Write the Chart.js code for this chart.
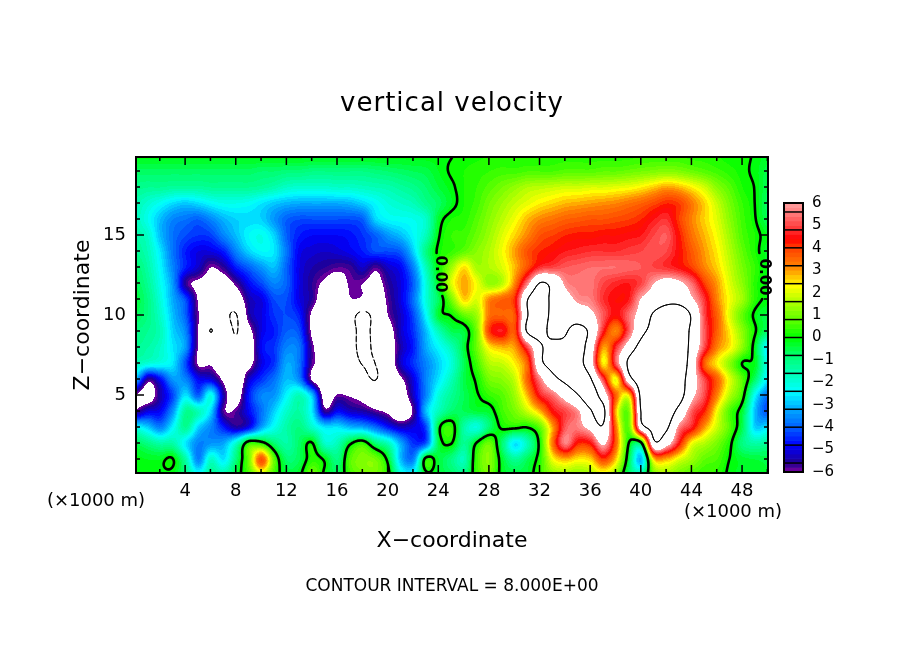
<!DOCTYPE html>
<html><head><meta charset="utf-8">
<style>html,body{margin:0;padding:0;background:#fff}#wrap{position:relative;width:904px;height:654px;overflow:hidden}canvas{position:absolute}</style>
<script src="https://cdn.jsdelivr.net/npm/chart.js@4"></script>
</head><body><div id="wrap"><canvas id="main" width="904" height="654" style="left:0;top:0"></canvas><canvas id="bar" width="134" height="305" style="left:770px;top:185px"></canvas></div>
<script>
const titleText='vertical velocity', xTitle='X\u2212coordinate', zTitle='Z\u2212coordinate';
const noteText='CONTOUR INTERVAL = 8.000E+00', unitText='(\u00d71000 m)', contourLabel='0.00';
const xNodes=[0,1,2,3,4,5,6,7,8,9,10,11,12,13,14,15,16,17,18,19,20,21,22,23,24,25,26,27,28,29,30,31,32,33,34,35,36,37,38,39,40,41,42,43,44,45,46,47,48,49,50];
const zNodes=[0,1,2,3,4,5,6,7,8,9,10,11,12,13,14,15,16,17,18,19,20];
const wZ20=[-.1,-.1,-.1,-.1,-.1,-.1,-.1,-.1,-.1,-.1,
-.1,-.1,-.1,-.1,-.1,-.1,-.1,-.1,-.1,-.1,
-.1,-.1,-.1,-.1,-.1,-.02,.1,.15,.2,.2,
.2,.2,.2,.3,.3,.3,.3,.3,.3,.3,
.4,.4,.4,.4,.3,.3,.2,.1,.1,-.05,
-.3];
const wZ19=[-.7,-.7,-.7,-.7,-.7,-.7,-.7,-.7,-.7,-.7,
-.8,-.8,-.9,-.9,-1,-1,-1,-1,-1,-.9,
-.8,-.7,-.6,-.5,-.2,.05,.2,.3,.4,.5,
.5,.6,.6,.6,.7,.7,.7,.8,.8,.9,
1,1.1,1.2,1.1,.9,.7,.5,.3,.1,-.1,
-.5];
const wZ18=[-1.1,-1.2,-1.2,-1.3,-1.3,-1.3,-1.2,-1.2,-1.2,-1.2,
-1.3,-1.5,-1.8,-1.9,-1.9,-1.9,-1.8,-1.8,-1.7,-1.6,
-1.5,-1.3,-1.1,-.8,-.4,-.1,.2,.4,.7,1,
1.3,1.6,1.7,1.8,1.9,1.9,2,2,2.1,2.2,
2.4,2.7,3,2.8,2.4,1.9,1.2,.7,.2,-.02,
-.6];
const wZ17=[-1.5,-1.9,-2.3,-2.7,-2.9,-2.7,-2.4,-2.2,-2.2,-2.3,
-2.6,-2.9,-3.1,-3.2,-3.2,-3.2,-3.2,-3.1,-2.8,-2.4,
-2,-1.8,-1.6,-1.1,-.7,-.2,.2,.5,1,1.4,
1.8,2.1,2.4,2.6,2.8,2.9,3,3.1,3.2,3.4,
3.6,3.9,4.2,4,3.3,2.6,1.8,1,.4,0,
-.7];
const wZ16=[-1.6,-2.2,-3,-3.6,-3.8,-4,-3.6,-3.1,-2.8,-2.7,
-2.8,-3.4,-4,-4.2,-4.2,-4.2,-4.2,-4.2,-4,-2.8,
-2.4,-2.3,-2.2,-1.8,-.3,.2,.3,.7,1.2,1.7,
2.2,2.8,3.2,3.4,3.6,3.7,3.8,3.8,3.9,4,
4.2,4.6,4.8,4,3.2,2.6,2,1.2,.5,.05,
-.6];
const wZ15=[-1.4,-1.8,-3,-3.8,-4.2,-4.4,-4.3,-3.6,-3,-2.4,
-2.2,-2.8,-4,-4.6,-4.8,-4.8,-4.8,-4.7,-4.4,-4,
-3.4,-3,-2.4,-1.6,-.1,.4,.5,.9,1.4,2,
2.6,3.2,3.8,4,4.2,4.3,4.3,4.4,4.4,4.5,
4.6,5,5.2,4.3,3.4,2.8,2.2,1.4,.6,.2,
-.2];
const wZ14=[-1.2,-1.6,-2.6,-3.8,-4.6,-5,-5,-4.6,-3.6,-2.8,
-2.4,-2.6,-3.8,-4.9,-5.1,-5.2,-5.1,-4.9,-4.6,-4.2,
-4.2,-4,-2.8,-1,.1,.4,.8,1.2,1.6,2.2,
3,3.8,4.2,4.4,4.6,4.7,4.8,4.8,4.8,4.9,
5,5.2,5,4.4,3.7,3,2.4,1.6,.8,.2,
-.3];
const wZ13=[-.8,-1.4,-2.4,-3.6,-4.6,-5.2,-6,-5.6,-4.6,-4,
-3.4,-3,-4,-5,-5.4,-5.6,-5.8,-5.7,-5.2,-5.8,
-5.2,-4.8,-3.6,-1.6,.05,1.4,2.5,1.5,1.6,2,
2.8,3.8,4.8,5,5.2,5.3,5.4,5.4,5.4,5.3,
5.2,5,4.8,4.5,4,3.2,2.6,1.8,1,.4,
-.2];
const wZ12=[-.6,-1.2,-2.2,-3.4,-5.6,-6.2,-6.4,-6.6,-5.8,-4.8,
-4.2,-3.6,-4,-5,-5.6,-6.2,-6.6,-5.9,-6,-6.4,
-5.6,-5,-4,-2,-.1,2,2.9,2.2,1.3,1.7,
3.2,5.6,8,7.5,5.8,5.5,5.5,5,4.7,4.6,
5,6,6.6,6.3,5.4,4,3,2,1.2,.3,
-.1];
const wZ11=[-.4,-1,-2,-3.2,-4.2,-6.1,-7,-7.2,-6.8,-5.4,
-5,-4.2,-4.2,-5,-5.6,-6.8,-7.2,-6.1,-6.2,-6.8,
-5.8,-5,-3.8,-2,-.6,1,2.6,2,3.2,3.6,
4.2,7.8,9,7.6,6.6,5.8,5.6,4.8,4.4,4.6,
6.1,6.8,7.4,7.2,6.2,4.8,3.2,2.2,1.4,.3,
-.1];
const wZ10=[-.6,-1,-1.8,-3,-4,-5.95,-6.6,-7.4,-8.1,-5.6,
-5,-4.4,-4.2,-4.6,-6.2,-7,-7.2,-7.4,-8.4,-7.5,
-6,-5.2,-4.2,-2.4,-.3,.05,.8,1.4,3.4,3.6,
3.8,7.8,9,7.6,7.2,7,6.4,5.2,4.4,5.4,
6.6,8.2,9,9.4,7.8,5,3.6,2,.8,-.1,
-.5];
const wZ9=[-1,-1.2,-1.6,-2.8,-3.6,-6,-8.03,-6.8,-8.1,-6.4,
-5,-4.6,-4,-4.2,-6.2,-7,-7.2,-7.4,-8.4,-7.6,
-6.6,-5.2,-4.4,-3,-1.6,-.6,-.4,1,4,4.6,
3.8,8.1,8.9,7.4,7.8,8.6,7.6,4.6,3.2,5.2,
7.4,8.6,9.4,9.4,7.6,5.2,3.6,2.4,1.2,.1,
-.8];
const wZ8=[-1.2,-1.4,-1.8,-2.6,-3.4,-6.05,-6.3,-6.5,-7.6,-6.8,
-4.8,-4.4,-3.6,-3.8,-5.8,-6.8,-7.2,-7.4,-8.4,-7.7,
-6.8,-5.4,-4.6,-3.2,-2.4,-1.6,-.4,.9,2.4,2.8,
3,5,7.6,8.6,8.4,8.8,7,3,4.8,6.8,
8.6,9.6,9.8,9.6,7.4,5,3.2,2.4,1.2,-.3,
-2.6];
const wZ7=[-1.6,-2,-2.2,-2.6,-4.2,-6.1,-6.1,-6.8,-6.9,-6.4,
-5,-4.4,-3.2,-3.8,-5.8,-6.4,-7,-7.4,-8.05,-8,
-7,-5.2,-4.4,-3.6,-2.8,-2,-.6,.5,1.6,1.8,
2.4,3.6,7.4,8.6,9,8.6,6.8,2.4,5.2,8.2,
9.6,10,10,9.6,7,3.6,2.4,1.2,0,-.2,
-2.2];
const wZ6=[-3,-5.6,-4.8,-3.4,-3.6,-4.8,-5,-6.2,-7.2,-5.2,
-4.4,-3.8,-3,-3.6,-6.1,-7,-7.4,-7.5,-7.6,-8.05,
-7.2,-6.2,-5,-3.6,-2.6,-1.6,-.5,.1,1,1.2,
1.8,3.6,5.6,7.4,8.4,9,8.2,5,2.2,7,
9.2,10,10,9.2,6.8,5,3.6,2,.7,-.8,
-2.6];
const wZ5=[-6.1,-6.6,-5.4,-4.2,-2.6,-4,-2.2,-5.4,-6.6,-4.6,
-3.6,-3.4,-2.4,-1.6,-3,-6.6,-5.9,-6.1,-6.4,-7,
-7.2,-6.8,-5.2,-3.6,-2,-1.2,-.6,-.1,.4,.7,
1.4,2.8,4.6,5.4,6.6,7.9,9,7,3.6,2.4,
8.4,9.8,10,9,6.4,5,3.2,1.6,.4,-2.4,
-3.8];
const wZ4=[-5.8,-5,-4.8,-3.4,-1.2,-1.6,-2.8,-5.8,-5.8,-4.8,
-3.8,-2.8,-1.8,-1.4,-2.6,-5.6,-4.8,-5.2,-5.4,-5.8,
-6.2,-7,-5.8,-3,-1.6,-.8,-.6,-.4,-.3,.5,
1,1.8,2.8,4.4,5,5.8,7.8,8.6,2.8,1,
8,9.4,9.4,7.4,5.2,4.2,2.2,.6,-.4,-3,
-4.2];
const wZ3=[-2.2,-2.8,-3.6,-2.4,-1.2,-2.8,-3.6,-4.6,-5.4,-4.8,
-3.2,-2.2,-1.4,-1,-1.8,-2.6,-2.6,-3,-3.2,-3.8,
-4.6,-5.2,-5,-4.2,-.3,.4,-1.4,-2,-.8,.1,
.2,.05,.8,3,5.2,5.6,6.4,7.8,3.4,.8,
7,8.6,8.4,5.6,4.6,3,1.8,.7,-.6,-2.8,
-2.6];
const wZ2=[-.6,-1,-1.4,-1.4,-2.6,-3.6,-3.4,-3.2,-1.8,.4,
.3,-.8,-1.4,-.7,.05,-1.8,-1.6,-.2,.4,-.8,
-1.6,-3.2,-4.4,-4,-.5,.05,-1.2,0,.9,-.8,
-2.6,-1.6,.2,3.4,5.6,4.2,4.4,6.2,3.6,.1,
-.3,7.4,6.6,4.4,2.2,1.6,1,.2,-1,-1.4,
-1.2];
const wZ1=[-.1,-.2,-.2,.03,-1.4,-3.6,-1.8,-2.6,-.9,1,
3.8,.8,-.8,-.6,.3,-.1,-1,.7,1.1,1,
-.2,-3,-3.6,.2,-.4,-1,-1.6,.5,1.2,-.3,
-1.2,-.6,.3,2.2,2.8,2.4,2.6,4,2.6,-.4,
-3,2.6,2.8,2,1.4,.8,.6,0,-.3,-.4,
-.5];
const wZ0=[-.1,-.1,-.1,-.2,-1,-2.2,-1.2,-1.4,-.4,.6,
1.6,.5,-.4,-.2,1,-.1,-.6,.5,1,1,
.3,-2,-2.2,-.2,-.4,-.7,-1,.4,1,-.2,
-.4,-.4,.5,1.2,1.4,1.2,1.5,2,1.2,-.8,
-1.2,1,1.4,1,.6,.4,.3,-.1,-.3,-.3,
-.4];
const rows=[wZ0,wZ1,wZ2,wZ3,wZ4,wZ5,wZ6,wZ7,wZ8,wZ9,wZ10,wZ11,wZ12,wZ13,wZ14,wZ15,wZ16,wZ17,wZ18,wZ19,wZ20];
const stopValues=[6,5.6,4.8,4.4,4,3.2,2.3,1.6,.8,0,-.8,-1.6,-2.4,-3.2,-4,-4.8,-5.6,-6];
const stopColors=['#ffa0a0','#ff8080','#ff3030','#ff0000','#ff4000','#ff8000','#ffff00','#b0ff00','#60ff00','#00ff00','#00ff70','#00ffb8','#00ffff','#00a8ff','#0060ff','#0000ff','#200090','#8000a0'];
const barEdges=[6,5.6,4.8,4,3.2,2.4,1.6,.8,0,-.8,-1.6,-2.4,-3.2,-4,-4.8,-5.6,-6];
const barLabels={'6':'6','5':'5','4':'4','3':'3','2':'2','1':'1','0':'0','-1':'\u22121','-2':'\u22122','-3':'\u22123','-4':'\u22124','-5':'\u22125','-6':'\u22126'};
const contourLevels=[0,8,-8];

const hex=h=>[1,3,5].map(i=>parseInt(h.slice(i,i+2),16));
const rgbStops=stopColors.map(hex);
const BAND=.2;
function rgbFor(v){
  if(v>6||v<-6) return [255,255,255];
  const q=(Math.floor(v/BAND)+.5)*BAND;
  for(let i=0;i<stopValues.length-1;i++){
    if(q<=stopValues[i]&&q>=stopValues[i+1]){
      const t=(stopValues[i]-q)/(stopValues[i]-stopValues[i+1]);
      return rgbStops[i].map((c,k)=>Math.round(c+(rgbStops[i+1][k]-c)*t));
    }
  }
  return [255,255,255];
}
const css=v=>{const c=rgbFor(v);return `rgb(${c[0]},${c[1]},${c[2]})`;};
function cr(a,b,c,d,t){return b+.5*t*(c-a+t*(2*a-5*b+4*c-d+t*(3*(b-c)+d-a)));}
function sample(x,z){
  const nx=xNodes.length,nz=zNodes.length;
  const i=Math.min(nx-2,Math.max(0,Math.floor(x))),j=Math.min(nz-2,Math.max(0,Math.floor(z)));
  const tx=x-i,tz=z-j,col=[];
  for(let m=-1;m<=2;m++){
    const r=rows[Math.min(nz-1,Math.max(0,j+m))];
    const g=k=>r[Math.min(nx-1,Math.max(0,k))];
    col.push(cr(g(i-1),g(i),g(i+1),g(i+2),tx));
  }
  return cr(col[0],col[1],col[2],col[3],tz);
}
const cells=[];
zNodes.forEach((z,j)=>xNodes.forEach((x,i)=>cells.push({x,y:z,w:rows[j][i]})));

const gaps=[[424,252,458,296],[750,252,775,299]];
const fieldPlugin={id:'field',afterDatasetsDraw(chart){
  const c=chart.ctx,a=chart.chartArea,xs=chart.scales.x,ys=chart.scales.y;
  const L=Math.round(a.left),T=Math.round(a.top),W=Math.round(a.right)-L,H=Math.round(a.bottom)-T;
  const F=new Float32Array((W+1)*(H+1));
  const img=c.createImageData(W,H);
  for(let py=0;py<=H;py++){const z=ys.getValueForPixel(T+py);
    for(let px=0;px<=W;px++){
      const v=sample(xs.getValueForPixel(L+px),z);F[py*(W+1)+px]=v;
      if(px<W&&py<H){const col=rgbFor(v),o=(py*W+px)*4;img.data[o]=col[0];img.data[o+1]=col[1];img.data[o+2]=col[2];img.data[o+3]=255;}
    }}
  c.putImageData(img,L,T);
  c.save();c.beginPath();c.rect(L,T,W,H);c.clip();c.strokeStyle='#000';
  contourLevels.forEach(level=>{
    c.beginPath();c.lineWidth=level===0?2.6:1;c.lineCap='round';
    for(let py=0;py<H;py++)for(let px=0;px<W;px++){
      const v=[F[py*(W+1)+px],F[py*(W+1)+px+1],F[(py+1)*(W+1)+px+1],F[(py+1)*(W+1)+px]];
      const pts=[];
      const edge=(a1,b1,ax,ay,bx,by)=>{if((a1>level)!==(b1>level)){const t=(level-a1)/(b1-a1);pts.push([L+px+ax+(bx-ax)*t,T+py+ay+(by-ay)*t]);}};
      edge(v[0],v[1],0,0,1,0);edge(v[1],v[2],1,0,1,1);edge(v[2],v[3],1,1,0,1);edge(v[3],v[0],0,1,0,0);
      if(pts.length<2)continue;
      const X=pts[0][0],Y=pts[0][1];
      if(level===0&&gaps.some(g=>X>g[0]&&X<g[2]&&Y>g[1]&&Y<g[3]))continue;
      if(level<0&&(Y%8)>5)continue;
      c.moveTo(pts[0][0],pts[0][1]);c.lineTo(pts[1][0],pts[1][1]);
      if(pts.length===4){c.moveTo(pts[2][0],pts[2][1]);c.lineTo(pts[3][0],pts[3][1]);}
    }
    c.stroke();
  });
  c.restore();
  c.save();c.strokeStyle='#000';
  c.lineWidth=1.5;
  xs.ticks.forEach(t=>{const p=xs.getPixelForValue(t.value),n=t.value%4===0?8:4;
    c.beginPath();c.moveTo(p,a.bottom);c.lineTo(p,a.bottom-n);c.moveTo(p,a.top);c.lineTo(p,a.top+n);c.stroke();});
  ys.ticks.forEach(t=>{const p=ys.getPixelForValue(t.value),n=t.value%5===0?8:4;
    c.beginPath();c.moveTo(a.left,p);c.lineTo(a.left+n,p);c.moveTo(a.right,p);c.lineTo(a.right-n,p);c.stroke();});
  c.lineWidth=2;c.strokeRect(a.left,a.top,a.right-a.left,a.bottom-a.top);
  c.fillStyle='#000';c.textAlign='center';c.textBaseline='middle';
  c.font='26px "DejaVu Sans"';c.letterSpacing='1px';
  c.fillText(titleText,452,104);c.letterSpacing='0px';
  c.font='17px "DejaVu Sans"';
  c.fillText(noteText,452,587);
  c.font='18px "DejaVu Sans"';
  c.fillText(unitText,96,501);c.fillText(unitText,733,512);
  c.font='bold 15px "DejaVu Sans"';
  [[440,274],[764,277]].forEach(p=>{c.save();c.translate(p[0],p[1]);c.rotate(Math.PI/2);c.fillText(contourLabel,0,0);c.restore();});
  c.restore();
}};
Chart.defaults.font.family='"DejaVu Sans"';
Chart.defaults.color='#000';
new Chart(document.getElementById('main'),{type:'scatter',
 data:{datasets:[{data:cells,pointStyle:'rect',pointRadius:9,pointBorderWidth:0,borderWidth:0,
   backgroundColor:ctx=>css(ctx.raw?ctx.raw.w:0)}]},
 options:{responsive:false,devicePixelRatio:1,animation:false,parsing:true,
  layout:{padding:{left:70,right:136,top:157,bottom:100}},
  plugins:{legend:{display:false},tooltip:{enabled:false},title:{display:false}},
  scales:{
   x:{type:'linear',min:.12,max:50.05,afterFit:s=>{s.height=81;},
     grid:{display:false,drawTicks:false},border:{display:false},
     title:{display:true,text:xTitle,font:{size:22},padding:0},
     ticks:{stepSize:2,includeBounds:false,autoSkip:false,maxRotation:0,padding:8,font:{size:18},
       callback:v=>v%4===0?String(v):''}},
   y:{type:'linear',min:.125,max:19.875,afterFit:s=>{s.width=66;},
     grid:{display:false,drawTicks:false},border:{display:false},
     title:{display:true,text:zTitle,font:{size:22},padding:0},
     ticks:{stepSize:1,includeBounds:false,autoSkip:false,padding:10,font:{size:18},
       callback:v=>v%5===0?String(v):''}}
  }},plugins:[fieldPlugin]});

const subEdges=[];
for(let i=0;i<barEdges.length-1;i++){const hi=barEdges[i],lo=barEdges[i+1],n=Math.round((hi-lo)/BAND);
  for(let k=0;k<n;k++)subEdges.push([hi-(hi-lo)*(k+1)/n,hi-(hi-lo)*k/n]);}
new Chart(document.getElementById('bar'),{type:'bar',
 data:{labels:['w'],datasets:subEdges.map(e=>({data:[e],backgroundColor:css((e[0]+e[1])/2),borderWidth:0,barPercentage:1,categoryPercentage:1,grouped:false}))},
 options:{responsive:false,devicePixelRatio:1,animation:false,
  layout:{padding:{left:14,right:0,top:6,bottom:17}},
  plugins:{legend:{display:false},tooltip:{enabled:false},title:{display:false}},
  scales:{x:{display:false,stacked:false},
   y:{position:'right',min:-6,max:6,afterFit:s=>{s.width=101;},
     grid:{display:false,drawTicks:false},border:{display:false},
     ticks:{stepSize:1,padding:9,font:{size:15},callback:v=>barLabels[String(v)]}}}},
 plugins:[{id:'barLines',afterDatasetsDraw(chart){const c=chart.ctx,a=chart.chartArea,y=chart.scales.y;
   c.save();c.strokeStyle='#000';c.lineWidth=1.5;
   barEdges.forEach(e=>{const p=y.getPixelForValue(e);c.beginPath();c.moveTo(a.left,p);c.lineTo(a.right,p);c.stroke();});
   c.lineWidth=2;c.strokeRect(a.left,a.top,a.right-a.left,a.bottom-a.top);c.restore();}}]});
</script></body></html>
